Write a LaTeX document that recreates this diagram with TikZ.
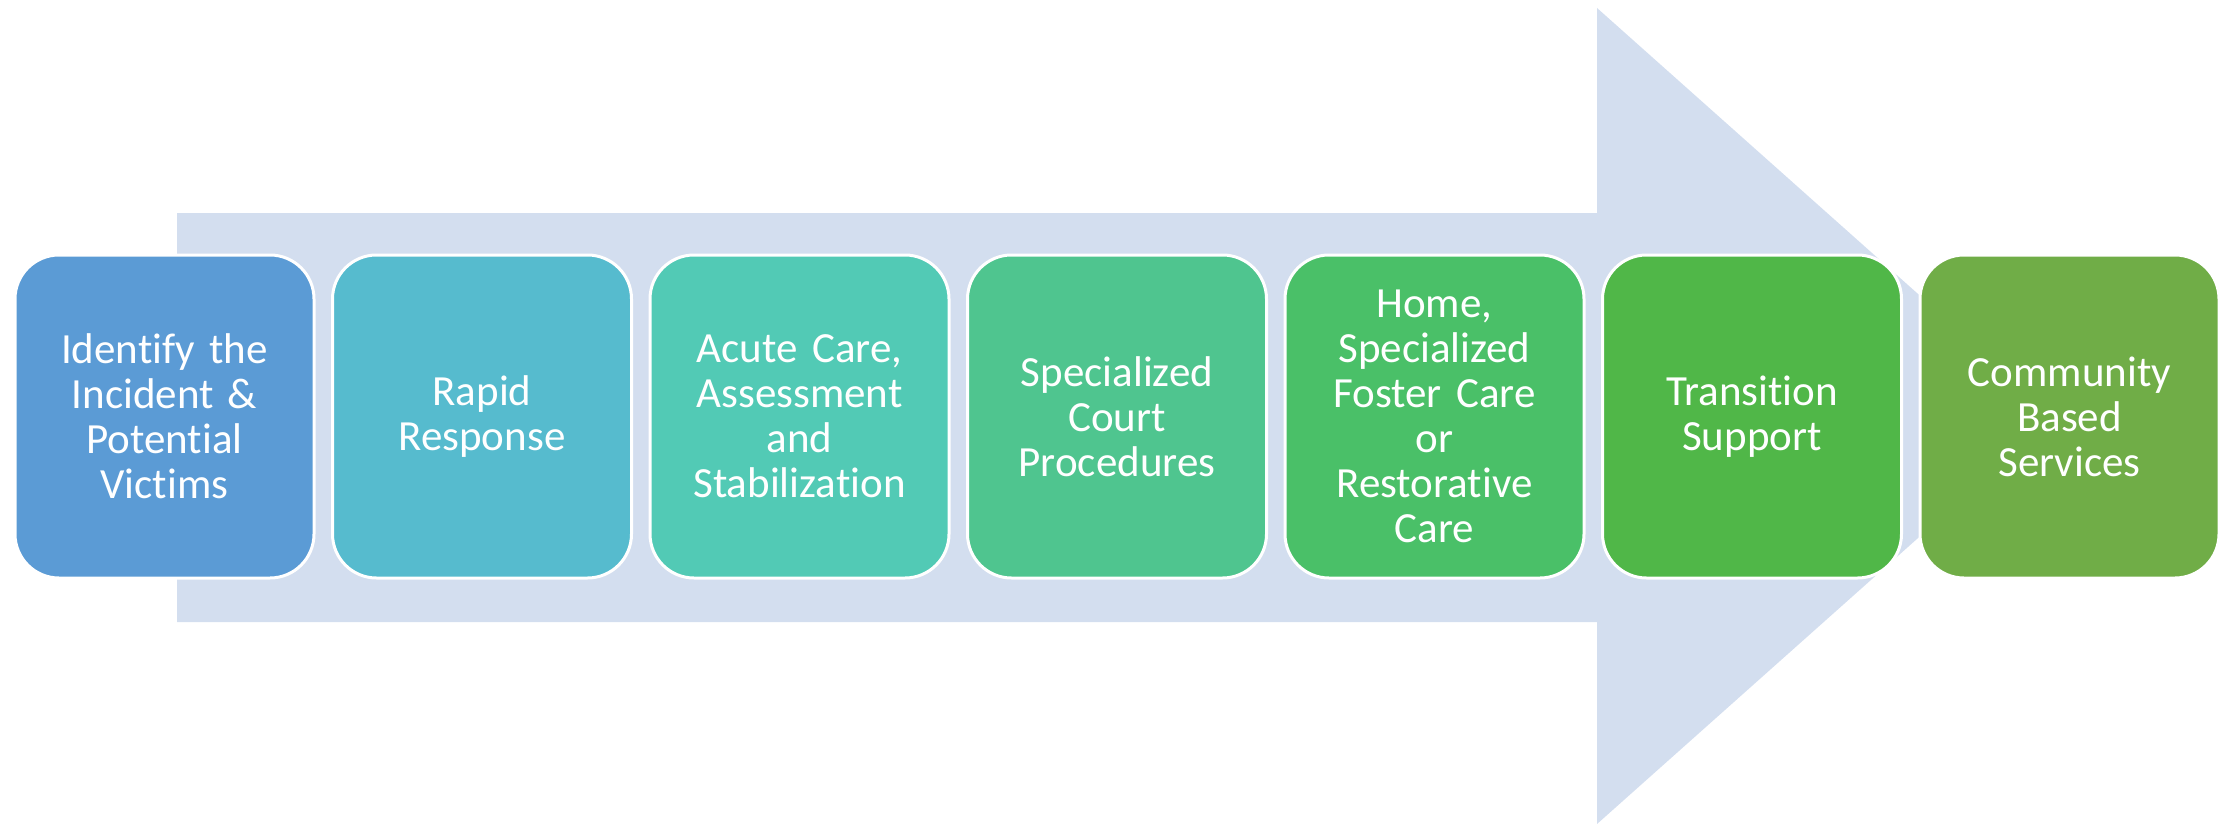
\documentclass[tikz,border=0pt]{standalone}
\usepackage{fontspec}
\setmainfont{Carlito}[Ligatures={NoCommon}]
\definecolor{arrowc}{RGB}{211,222,239}
\definecolor{cA}{RGB}{91,155,213}
\definecolor{cB}{RGB}{86,187,206}
\definecolor{cC}{RGB}{82,202,181}
\definecolor{cD}{RGB}{79,197,143}
\definecolor{cE}{RGB}{74,192,104}
\definecolor{cF}{RGB}{80,183,72}
\definecolor{cG}{RGB}{112,173,71}
\tikzset{
  stagebox/.style={rectangle, rounded corners=22pt, draw=white, line width=1.5pt,
    minimum width=149.5pt, minimum height=161.5pt, inner sep=0pt,
    text=white, align=center, text width=140pt,
    font=\fontsize{21.5pt}{22.5pt}\selectfont}
}
\begin{document}
\begin{tikzpicture}[x=0.5pt,y=-0.5pt]
\useasboundingbox (0,0) rectangle (2233,824);
\fill[arrowc] (177,213) -- (1597,213) -- (1597,8) -- (2055,416) -- (1597,824) -- (1597,622) -- (177,622) -- cycle;
\node[stagebox, fill=cA] (s1) at (164.5,416.5) {Identify the\\Incident \&\\Potential\\Victims};
\node[stagebox, fill=cB] (s2) at (482,416.5) {Rapid\\Response};
\node[stagebox, fill=cC] (s3) at (799.5,416.5) {Acute Care,\\Assessment\\and\\Stabilization};
\node[stagebox, fill=cD] (s4) at (1117,416.5) {Specialized\\Court\\Procedures};
\node[stagebox, fill=cE] (s5) at (1434.5,416.5) {Home,\\Specialized\\Foster Care\\or\\Restorative\\Care};
\node[stagebox, fill=cF] (s6) at (1752,416.5) {Transition\\Support};
\node[stagebox, fill=cG] (s7) at (2069.5,416.5) {Community\\Based\\Services};
\end{tikzpicture}
\end{document}
